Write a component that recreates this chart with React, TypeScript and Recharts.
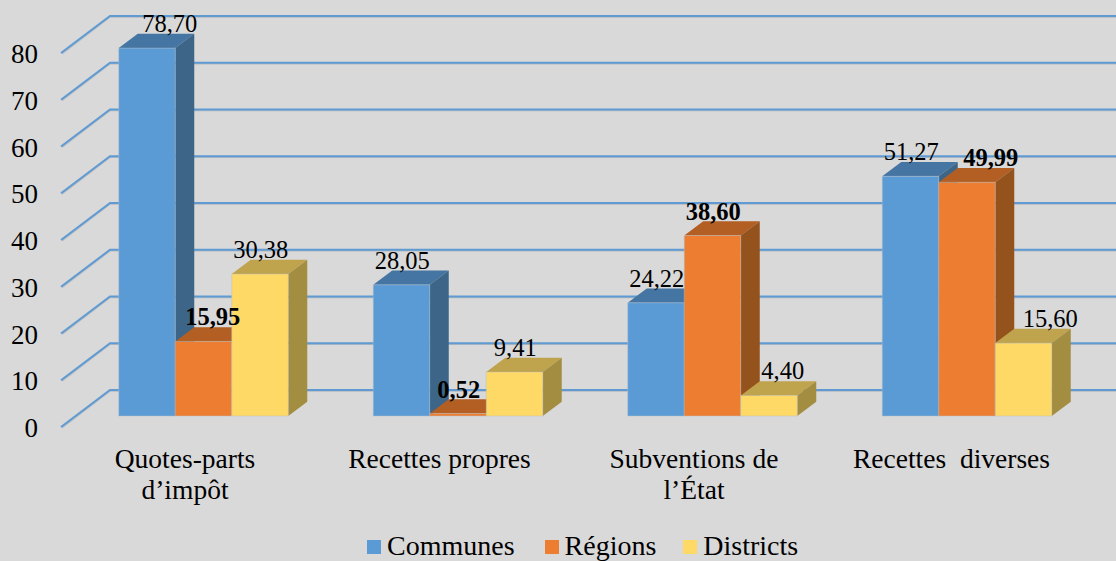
// App.tsx
import React from 'react';
import { BarChart, Bar, XAxis, YAxis, CartesianGrid, Legend, LabelList } from 'recharts';

const categories = ['Quotes-parts\nd’impôt', 'Recettes propres', 'Subventions de\nl’État', 'Recettes  diverses'];
const communes = [78.7, 28.05, 24.22, 51.27];
const regions = [15.95, 0.52, 38.6, 49.99];
const districts = [30.38, 9.41, 4.4, 15.6];
const yTicks = [0, 10, 20, 30, 40, 50, 60, 70, 80];

const chartData = categories.map((name, i) => ({
    name,
    communes: communes[i],
    regions: regions[i],
    districts: districts[i],
}));

// 3D look
const DEPTH_X = 19;
const DEPTH_Y = 14.3;
const FONT = '"Liberation Serif", serif';
const BG = '#d9d9d9';
const CATEGORY_NUDGE = [0, 0, 0, 3];
const LEGEND_GAPS = [367, 30, 27];

const SERIES = [
    { key: 'communes', name: 'Communes', front: '#5b9bd5', top: '#4575a2', side: '#3c6587', bold: false, nudge: [22, 0, 0, 0] },
    { key: 'regions', name: 'Régions', front: '#ed7d31', top: '#b35e23', side: '#94521c', bold: true, nudge: [8.5, 0, 0, 23] },
    { key: 'districts', name: 'Districts', front: '#ffd966', top: '#bfa34d', side: '#a38d40', bold: false, nudge: [0, 0, 13, 26] },
];

const Box3D = (props: any) => {
    const { x, y, width: w, height: h, front, top, side } = props;
    return (
        <g>
            <path
                d={`M${x},${y}L${x + DEPTH_X},${y - DEPTH_Y}H${x + w + DEPTH_X}L${x + w},${y}Z`}
                fill={top}
            />
            <path
                d={`M${x + w},${y}L${x + w + DEPTH_X},${y - DEPTH_Y}V${y + h - DEPTH_Y}L${x + w},${y + h}Z`}
                fill={side}
            />
            <rect x={x} y={y} width={w} height={h} fill={front} stroke="#b4bec8" strokeOpacity={0.45} strokeWidth={1} />
        </g>
    );
};

const GridLine = (props: any) => {
    const { y1 } = props;
    const backY = y1 - 26;
    return (
        <g fill="none">
            <path d={`M62,${y1 + 11.5}L110,${backY + 0.8}H1116`} stroke="#b5bbc2" strokeWidth={2} />
            <path d={`M61,${y1 + 11}L110,${backY}H1116`} stroke="#5f9bd2" strokeWidth={2} />
        </g>
    );
};

const YTick = ({ y, payload }: any) => (
    <text x={38} y={y + 21} textAnchor="end" fontFamily={FONT} fontSize={27} fill="#000">
        {payload.value}
    </text>
);

const XTick = ({ x, payload, index }: any) => (
    <text textAnchor="middle" fontFamily={FONT} fontSize={27.5} fill="#000" style={{ whiteSpace: 'pre' }}>
        {String(payload.value)
            .split('\n')
            .map((line: string, i: number) => (
                <tspan key={line} x={x - 18 + CATEGORY_NUDGE[index]} y={468 + i * 31}>
                    {line}
                </tspan>
            ))}
    </text>
);

const ChartLegend = () => (
    <div style={{ display: 'flex', fontFamily: FONT, fontSize: 28, color: '#000', lineHeight: '28px' }}>
        {SERIES.map((s, i) => (
            <div key={s.key} style={{ display: 'flex', alignItems: 'center', marginLeft: LEGEND_GAPS[i] }}>
                <span style={{ width: 14, height: 14, marginRight: 6, marginTop: 2, background: s.front }} />
                <span>{s.name}</span>
            </div>
        ))}
    </div>
);

const valueLabel = (s: (typeof SERIES)[number]) => (props: any) => {
    const { x, y, width, value, index } = props;
    return (
        <text
            x={x + width / 2 + 0.75 + s.nudge[index]}
            y={y - 16}
            textAnchor="middle"
            fontFamily={FONT}
            fontSize={24.5}
            fontWeight={s.bold ? 'bold' : 'normal'}
            fill="#000"
        >
            {Number(value).toFixed(2).replace('.', ',')}
        </text>
    );
};

export default function App() {
    return (
        <div style={{ position: 'absolute', left: 0, top: 0, width: 1116, height: 561, background: BG, overflow: 'hidden' }}>
            <BarChart
                width={1116}
                height={561}
                data={chartData}
                margin={{ top: 42, right: 22.25, bottom: 0, left: 0 }}
                barSize={56.5}
                barGap={0}
            >
                <CartesianGrid vertical={false} horizontal={(p: any) => <GridLine key={p.key ?? p.index} {...p} />} />
                <XAxis dataKey="name" height={145} interval={0} axisLine={false} tickLine={false} tick={XTick} />
                <YAxis width={75.75} domain={[0, 80]} ticks={yTicks} axisLine={false} tickLine={false} tick={YTick} />
                <Legend
                    layout="horizontal"
                    verticalAlign="middle"
                    content={ChartLegend}
                    wrapperStyle={{ left: 0, top: 532, width: 1116, height: 28 }}
                />
                {SERIES.map((s) => (
                    <Bar
                        key={s.key}
                        dataKey={s.key}
                        name={s.name}
                        fill={s.front}
                        isAnimationActive={false}
                        shape={(p: any) => <Box3D {...p} front={s.front} top={s.top} side={s.side} />}
                    >
                        <LabelList dataKey={s.key} content={valueLabel(s)} />
                    </Bar>
                ))}
            </BarChart>
        </div>
    );
}
